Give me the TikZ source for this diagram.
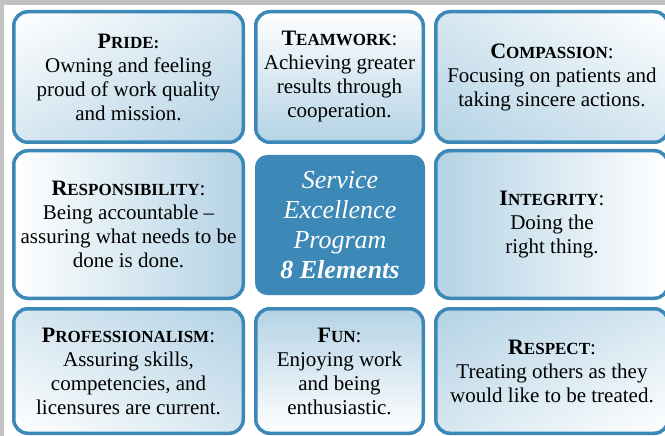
\documentclass[tikz,border=0pt]{standalone}
\usepackage{fontspec}
\setmainfont{Liberation Serif}
\usetikzlibrary{shadings}

\definecolor{frameblue}{HTML}{3C88B7}
\definecolor{paleblue}{HTML}{B4D3E5}
\colorlet{halfblue}{white!45!paleblue}
\definecolor{sidegray}{HTML}{C2C2C2}

% bold title with faked small caps
\newcommand{\eltitle}[2]{{\fontsize{22}{24}\selectfont\bfseries #1}{\fontsize{17}{24}\selectfont\bfseries #2}}

\tikzset{
  element/.style n args={4}{draw=frameblue, line width=3.5pt, rounded corners=14pt,
    upper left=#1, upper right=#2, lower left=#3, lower right=#4,
    align=center, inner sep=0pt, font=\fontsize{21}{24}\selectfont},
  core/.style={fill=frameblue, rounded corners=12pt, text=white, align=center,
    inner sep=0pt, minimum width=170pt, minimum height=140pt,
    font=\itshape\fontsize{26}{30}\selectfont},
}

\begin{document}
\begin{tikzpicture}[x=1pt, y=-1pt]
    \useasboundingbox (0,0) rectangle (665,436);
    \clip (0,0) rectangle (665,436);
    \fill[white] (0,0) rectangle (665,436);
    \fill[sidegray] (0,0) rectangle (665,5);
    \fill[sidegray] (0,0) rectangle (4,436);

    % top row
    \node[element={white}{halfblue}{halfblue}{paleblue}, minimum width=229.5pt, minimum height=130.5pt] (pride) at (128.5,77)
        {\eltitle{P}{RIDE:}\\ Owning and feeling\\ proud of work quality\\ and mission.};
    \node[element={white}{white}{paleblue}{paleblue}, minimum width=167.5pt, minimum height=130.5pt] (teamwork) at (339.5,77)
        {\eltitle{T}{EAMWORK}:\\ Achieving greater\\ results through\\ cooperation.};
    \node[element={halfblue}{white}{paleblue}{halfblue}, minimum width=232.5pt, minimum height=130.5pt] (compassion) at (552,77)
        {\eltitle{C}{OMPASSION}:\\ Focusing on patients and\\ taking sincere actions.};

    % middle row
    \node[element={white}{paleblue}{white}{paleblue}, minimum width=229.5pt, minimum height=147.5pt] (responsibility) at (128.5,224.5)
        {\eltitle{R}{ESPONSIBILITY}:\\ Being accountable –\\ assuring what needs to be\\ done is done.};
    \node[core] (program) at (340,225)
        {Service\\ Excellence\\ Program\\ \textbf{8 Elements}};
    \node[element={paleblue}{white}{paleblue}{white}, minimum width=232.5pt, minimum height=147.5pt] (integrity) at (552,224.5)
        {\eltitle{I}{NTEGRITY}:\\ Doing the\\ right thing.};

    % bottom row
    \node[element={halfblue}{paleblue}{white}{halfblue}, minimum width=229.5pt, minimum height=124.5pt] (professionalism) at (128.5,371)
        {\eltitle{P}{ROFESSIONALISM}:\\ Assuring skills,\\ competencies, and\\ licensures are current.};
    \node[element={paleblue}{paleblue}{white}{white}, minimum width=167.5pt, minimum height=124.5pt] (fun) at (339.5,371)
        {\eltitle{F}{UN}:\\ Enjoying work\\ and being\\ enthusiastic.};
    \node[element={paleblue}{halfblue}{halfblue}{white}, minimum width=232.5pt, minimum height=124.5pt] (respect) at (552,371)
        {\eltitle{R}{ESPECT}:\\ Treating others as they\\ would like to be treated.};
\end{tikzpicture}
\end{document}
